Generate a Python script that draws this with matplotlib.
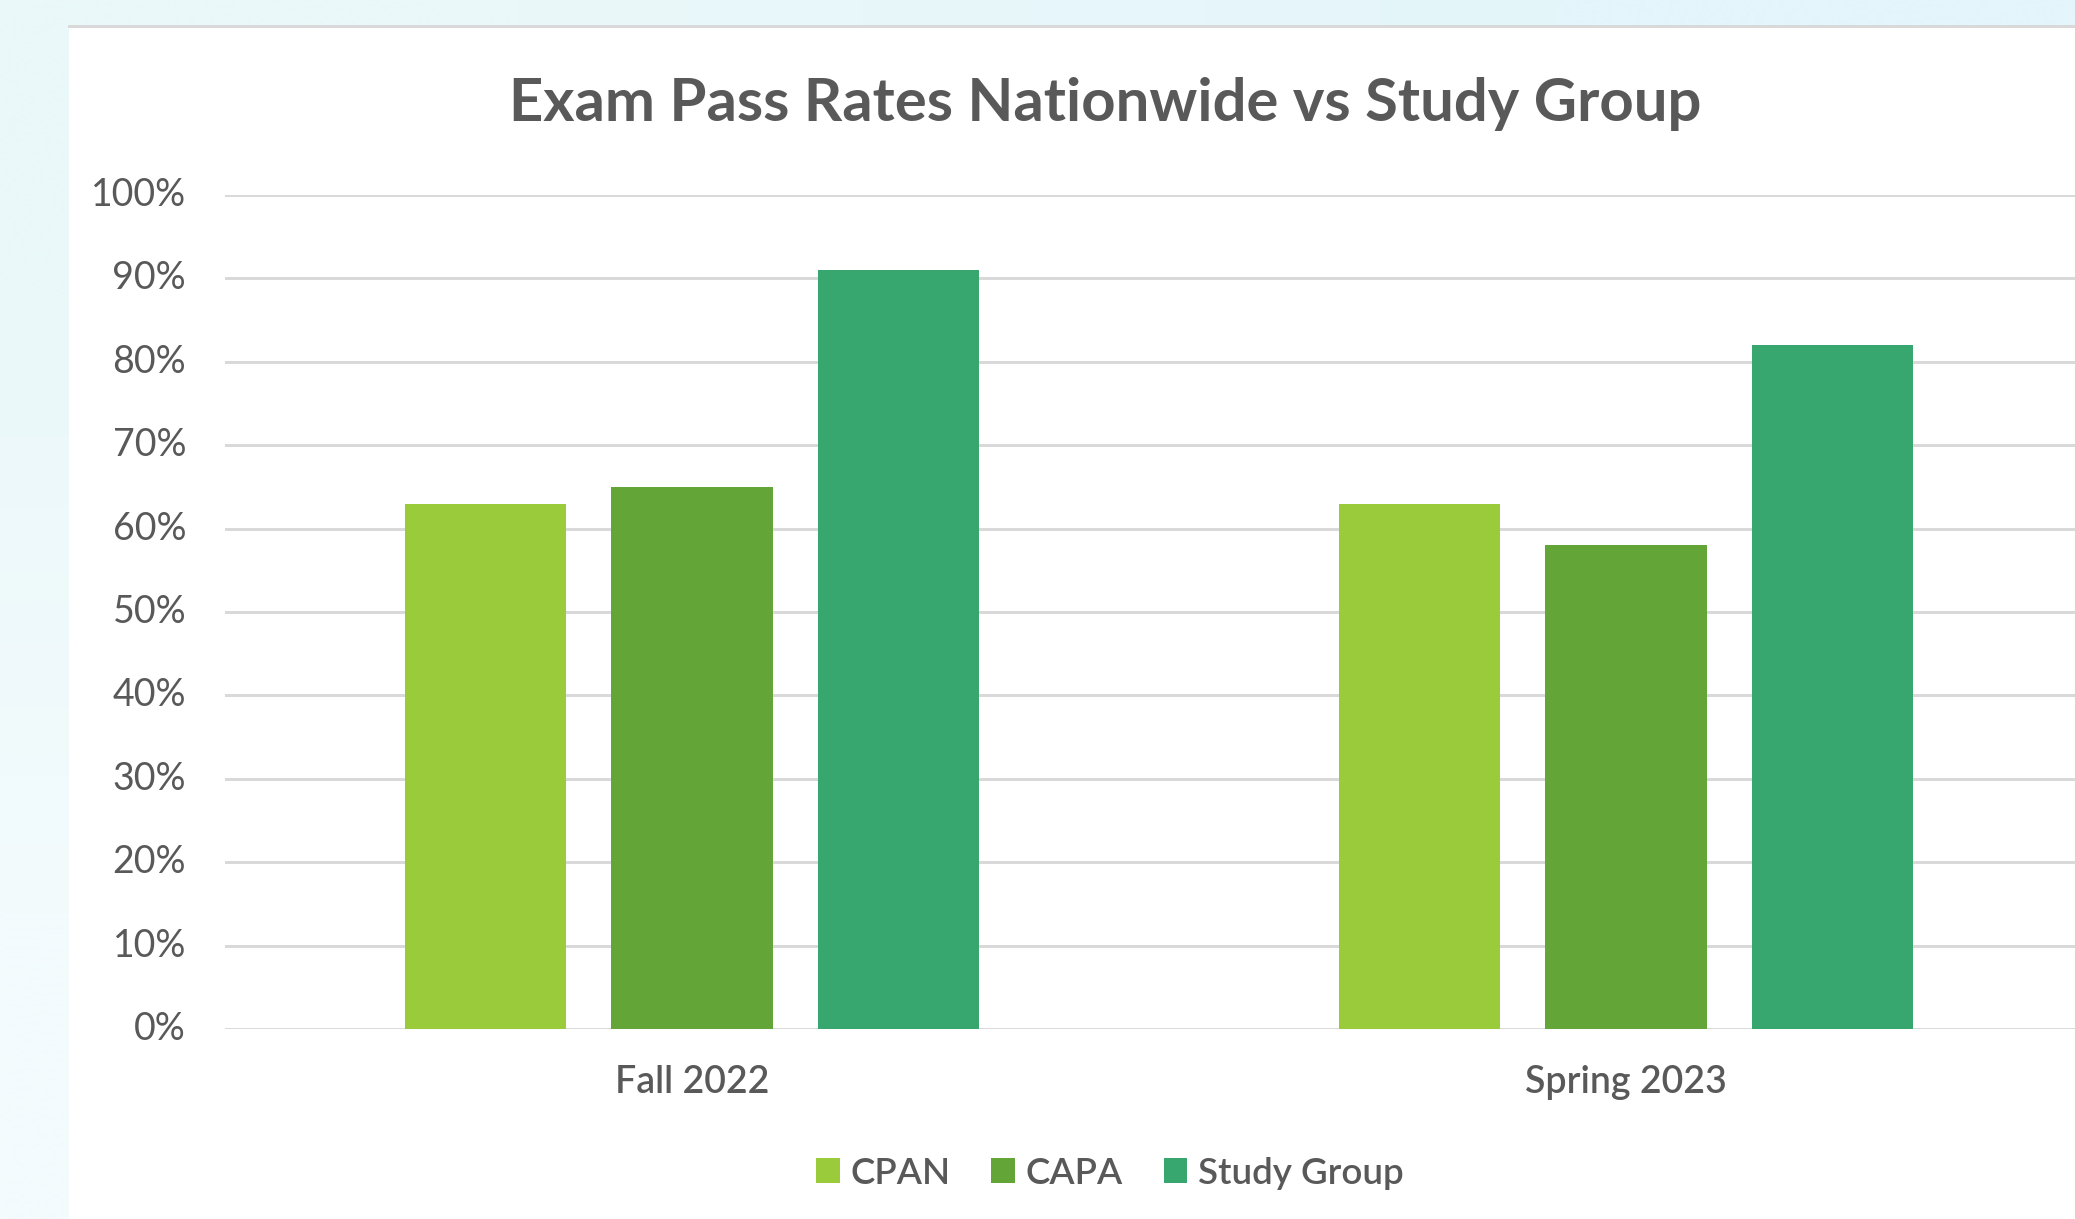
import matplotlib
matplotlib.use("Agg")
import matplotlib.pyplot as plt
import numpy as np
from matplotlib.patches import Rectangle, Patch
from matplotlib.lines import Line2D
from matplotlib.ticker import FuncFormatter

# ---- data ----
categories = ["Fall 2022", "Spring 2023"]
series_names = ["CPAN", "CAPA", "Study Group"]
cpan = [0.63, 0.63]
capa = [0.65, 0.58]
study_group = [0.91, 0.82]
y_ticks = [0.0, 0.1, 0.2, 0.3, 0.4, 0.5, 0.6, 0.7, 0.8, 0.9, 1.0]
title = "Exam Pass Rates Nationwide vs Study Group"

colors = ["#9acb3a", "#63a537", "#37a76f"]
text_color = "#595959"
grid_color = "#d9d9d9"

W, H = 2075, 1219
DPI = 100
plt.rcParams['font.family'] = ['Lato', 'DejaVu Sans']

fig = plt.figure(figsize=(W / DPI, H / DPI), dpi=DPI)

# background gradient
bg = fig.add_axes([0, 0, 1, 1], zorder=-10)
bg.set_axis_off()
grad = np.array([[[0xea, 0xf8, 0xf9], [0xe4, 0xf5, 0xfb]],
                 [[0xf3, 0xfb, 0xfd], [0xee, 0xf9, 0xfc]]]) / 255.0
bg.imshow(grad, extent=[0, 1, 0, 1], aspect='auto', interpolation='bilinear')
bg.set_xlim(0, 1)
bg.set_ylim(0, 1)
# white panel
bg.add_patch(Rectangle((69 / W, 0), 1, 1 - 27 / H, facecolor='white', edgecolor='none', zorder=2))
bg.add_line(Line2D([69 / W, 1], [1 - 25.5 / H, 1 - 25.5 / H], color=grid_color, lw=3 * 72 / DPI, zorder=3))

# main axes
left_px, right_px = 225, 2093
bottom_px, top_px = 1029, 195
ax = fig.add_axes([left_px / W, (H - bottom_px) / H, (right_px - left_px) / W, (bottom_px - top_px) / H])
ax.set_facecolor('none')
for s in ax.spines.values():
    s.set_visible(False)

x = np.arange(len(categories))
bw = 0.1724
off = 0.2206
for i, (vals, c, name) in enumerate(zip([cpan, capa, study_group], colors, series_names)):
    ax.bar(x + (i - 1) * off, vals, width=bw, color=c, label=name, zorder=3)

ax.set_xlim(-0.5, len(categories) - 0.5)
ax.set_ylim(0, 1.0)
ax.set_yticks(y_ticks)
ax.yaxis.set_major_formatter(FuncFormatter(lambda v, p: f"{v * 100:.0f}%"))
ax.set_xticks(x)
ax.set_xticklabels(categories)
ax.tick_params(axis='both', length=0, colors=text_color, labelsize=27)
ax.tick_params(axis='y', pad=28)
ax.tick_params(axis='x', pad=26)
for lab in ax.get_yticklabels():
    lab.set_verticalalignment('center')
for lab in ax.get_xticklabels():
    lab.set_fontweight('semibold')
ax.yaxis.grid(True, color=grid_color, lw=3 * 72 / DPI, zorder=0)
ax.set_axisbelow(True)

# title
fig.text(1105 / W, 1 - 121 / H, title, ha='center', va='baseline',
         fontsize=43, fontweight='bold', color=text_color)

# legend
handles = [Patch(facecolor=c, edgecolor='none') for c in colors]
leg = fig.legend(handles, series_names, loc='center', ncol=3, frameon=False,
                 bbox_to_anchor=(1110 / W, 1 - 1173 / H),
                 prop={'size': 26.5, 'weight': 'semibold'},
                 handlelength=0.64, handleheight=0.67, handletextpad=0.3,
                 columnspacing=1.1, borderaxespad=0, borderpad=0)
for t in leg.get_texts():
    t.set_color(text_color)

fig.savefig("out.png", dpi=DPI)
